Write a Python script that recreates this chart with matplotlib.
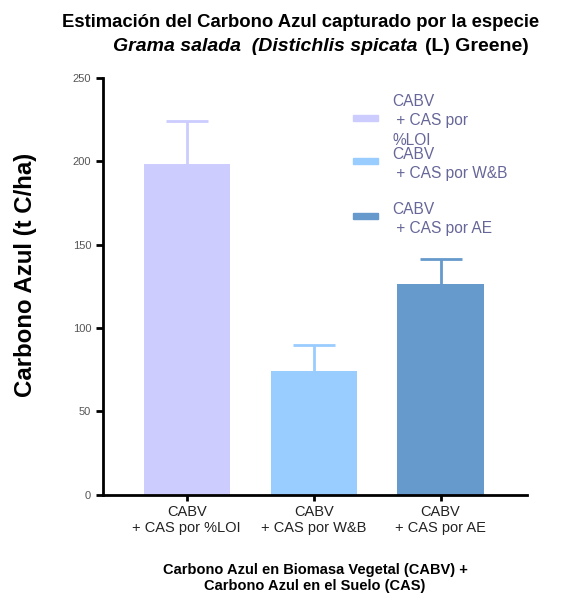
import matplotlib
matplotlib.use('Agg')
import matplotlib.pyplot as plt
from matplotlib.patches import Rectangle
from matplotlib.offsetbox import TextArea, HPacker, AnnotationBbox

plt.rcParams['font.family'] = ['Liberation Sans', 'DejaVu Sans']

# datos
categorias = ['CABV\n+ CAS por %LOI', 'CABV\n+ CAS por W&B', 'CABV\n+ CAS por AE']
leyenda = ['CABV\n + CAS por\n%LOI', 'CABV\n + CAS por W&B', 'CABV\n + CAS por AE']
valores = [198.5, 74, 126.5]
error_sup = [25.5, 16, 15]
colores = ['#ccccff', '#99ccff', '#6699cc']

fig = plt.figure(figsize=(5.69, 5.94), dpi=100)
ax = fig.add_axes([0.181, 0.167, 0.745, 0.702])

x = range(len(valores))
for i in x:
    ax.bar(i, valores[i], width=0.68, color=colores[i], zorder=2)
    # barra de error solo hacia arriba
    ax.vlines(i, valores[i], valores[i] + error_sup[i], color=colores[i], lw=2, zorder=1)
    ax.hlines(valores[i] + error_sup[i], i - 0.165, i + 0.165, color=colores[i], lw=2, zorder=1)

ax.set_xlim(-0.66, 2.68)
ax.set_ylim(0, 250)
ax.set_yticks([0, 50, 100, 150, 200, 250])
ax.set_xticks(list(x))
ax.set_xticklabels(categorias, fontsize=10.5, color='#222222')
ax.tick_params(axis='y', labelsize=8, labelcolor='#555555', color='black', length=5, width=2)
ax.tick_params(axis='x', length=4, width=2, pad=3)
ax.spines['top'].set_visible(False)
ax.spines['right'].set_visible(False)
ax.spines['left'].set_linewidth(2)
ax.spines['bottom'].set_linewidth(2)

ax.set_ylabel('Carbono Azul (t C/ha)', fontsize=17.3, fontweight='bold')
ax.yaxis.set_label_coords(-0.156, 0.528)
ax.set_xlabel('Carbono Azul en Biomasa Vegetal (CABV) +\nCarbono Azul en el Suelo (CAS)',
              fontsize=10.5, fontweight='bold', labelpad=20)

# leyenda a mano (como en GraphPad, espaciado irregular)
pos_muestra = [0.904, 0.801, 0.669]
pos_texto = [0.962, 0.835, 0.703]
for i in x:
    ax.add_patch(Rectangle((0.590, pos_muestra[i] - 0.007), 0.059, 0.014,
                           transform=ax.transAxes, color=colores[i], clip_on=False))
    ax.text(0.682, pos_texto[i], leyenda[i], transform=ax.transAxes, ha='left', va='top',
            fontsize=11.2, color='#666699', linespacing=1.38)

# título
fig.text(0.528, 0.962, 'Estimación del Carbono Azul capturado por la especie',
         ha='center', va='center', fontsize=13.3, fontweight='bold')
partes = [TextArea('Grama salada  (Distichlis spicata ',
                   textprops=dict(fontsize=14, fontweight='bold', fontstyle='italic')),
          TextArea('(L) Greene)', textprops=dict(fontsize=14, fontweight='bold'))]
caja = HPacker(children=partes, pad=0, sep=2)
ab = AnnotationBbox(caja, (0.564, 0.922), xycoords='figure fraction', frameon=False,
                    box_alignment=(0.5, 0.5))
fig.add_artist(ab)

fig.savefig('out.png', dpi=100)
